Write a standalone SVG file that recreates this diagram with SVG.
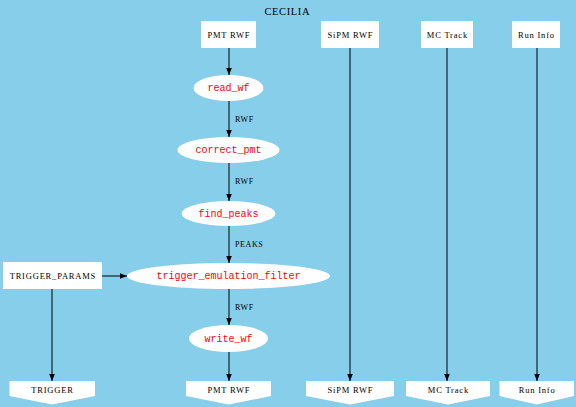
<svg xmlns="http://www.w3.org/2000/svg" width="576" height="407" viewBox="0 0 576 407">
<defs>
<marker id="ah" viewBox="0 0 10 10" refX="10" refY="5" markerWidth="7" markerHeight="7" markerUnits="userSpaceOnUse" orient="auto">
<path d="M0,1 L10,5 L0,9 Z" fill="#000"/>
</marker>
</defs>
<style>
.box{fill:#fff;stroke:none}
.lbl{font-family:"Liberation Serif",serif;font-size:8.5px;letter-spacing:0.8px;fill:#000;text-anchor:middle}
.fn{font-family:"Liberation Mono",monospace;font-size:10px;fill:#ff0000;text-anchor:middle}
.el{font-family:"Liberation Serif",serif;font-size:8px;letter-spacing:0.6px;fill:#000}
.edge{stroke:#000;stroke-width:1;fill:none;marker-end:url(#ah)}
</style>
<rect width="576" height="407" fill="#87CEEB"/>
<text x="287.3" y="15" font-family="Liberation Serif,serif" font-size="10.5" letter-spacing="0.6" text-anchor="middle">CECILIA</text>
<g id="edges">
<line class="edge" x1="229" y1="48" x2="229" y2="75"/>
<line class="edge" x1="229" y1="101" x2="229" y2="137"/>
<line class="edge" x1="229" y1="163" x2="229" y2="201"/>
<line class="edge" x1="229" y1="226" x2="229" y2="263"/>
<line class="edge" x1="229" y1="289" x2="229" y2="325"/>
<line class="edge" x1="229" y1="352" x2="229" y2="381"/>
<line class="edge" x1="102" y1="276" x2="127" y2="276"/>
<line class="edge" x1="52" y1="289" x2="52" y2="381"/>
<line class="edge" x1="350" y1="48" x2="350" y2="381"/>
<line class="edge" x1="447" y1="48" x2="447" y2="381"/>
<line class="edge" x1="537" y1="48" x2="537" y2="381"/>
<text class="el" x="235" y="122">RWF</text>
<text class="el" x="235" y="184">RWF</text>
<text class="el" x="235" y="247">PEAKS</text>
<text class="el" x="235" y="310">RWF</text>
</g>
<g id="in_pmt"><rect class="box" x="201" y="21" width="55" height="27"/><text class="lbl" x="228.9" y="37.5">PMT RWF</text></g>
<g id="in_sipm"><rect class="box" x="321" y="21" width="58" height="27"/><text class="lbl" x="350.4" y="37.5">SiPM RWF</text></g>
<g id="in_mc"><rect class="box" x="421" y="21" width="52" height="27"/><text class="lbl" x="447.4" y="37.5">MC Track</text></g>
<g id="in_run"><rect class="box" x="512" y="21" width="48" height="27"/><text class="lbl" x="536.4" y="37.5">Run Info</text></g>
<g id="read_wf"><ellipse cx="228.5" cy="88" rx="35" ry="13" fill="#fff"/><text class="fn" x="228.5" y="91">read_wf</text></g>
<g id="correct_pmt"><ellipse cx="228.5" cy="150" rx="51" ry="13" fill="#fff"/><text class="fn" x="228.5" y="153">correct_pmt</text></g>
<g id="find_peaks"><ellipse cx="228.5" cy="213.5" rx="47" ry="12.5" fill="#fff"/><text class="fn" x="228.5" y="216.5">find_peaks</text></g>
<g id="trigger_emulation_filter"><ellipse cx="228.5" cy="276" rx="101.5" ry="13" fill="#fff"/><text class="fn" x="228.5" y="279">trigger_emulation_filter</text></g>
<g id="write_wf"><ellipse cx="228.5" cy="338.5" rx="39.5" ry="13.5" fill="#fff"/><text class="fn" x="228.5" y="341.5">write_wf</text></g>
<g id="trigger_params"><rect class="box" x="3" y="262" width="99" height="27"/><text class="lbl" x="52.9" y="278.5">TRIGGER_PARAMS</text></g>
<g id="out_trigger"><polygon class="box" points="9.5,381 95,381 95,396 52,404.5 9.5,396"/><text class="lbl" x="52.4" y="392.5">TRIGGER</text></g>
<g id="out_pmt"><polygon class="box" points="186,381 271,381 271,396 228.5,404.5 186,396"/><text class="lbl" x="228.9" y="392.5">PMT RWF</text></g>
<g id="out_sipm"><polygon class="box" points="306,381 394,381 394,396 350,404.5 306,396"/><text class="lbl" x="350.4" y="392.5">SiPM RWF</text></g>
<g id="out_mc"><polygon class="box" points="406,381 490,381 490,396 448,404.5 406,396"/><text class="lbl" x="448.4" y="392.5">MC Track</text></g>
<g id="out_run"><polygon class="box" points="499.5,381 574,381 574,396 536.75,404.5 499.5,396"/><text class="lbl" x="537.1" y="392.5">Run Info</text></g>
</svg>
